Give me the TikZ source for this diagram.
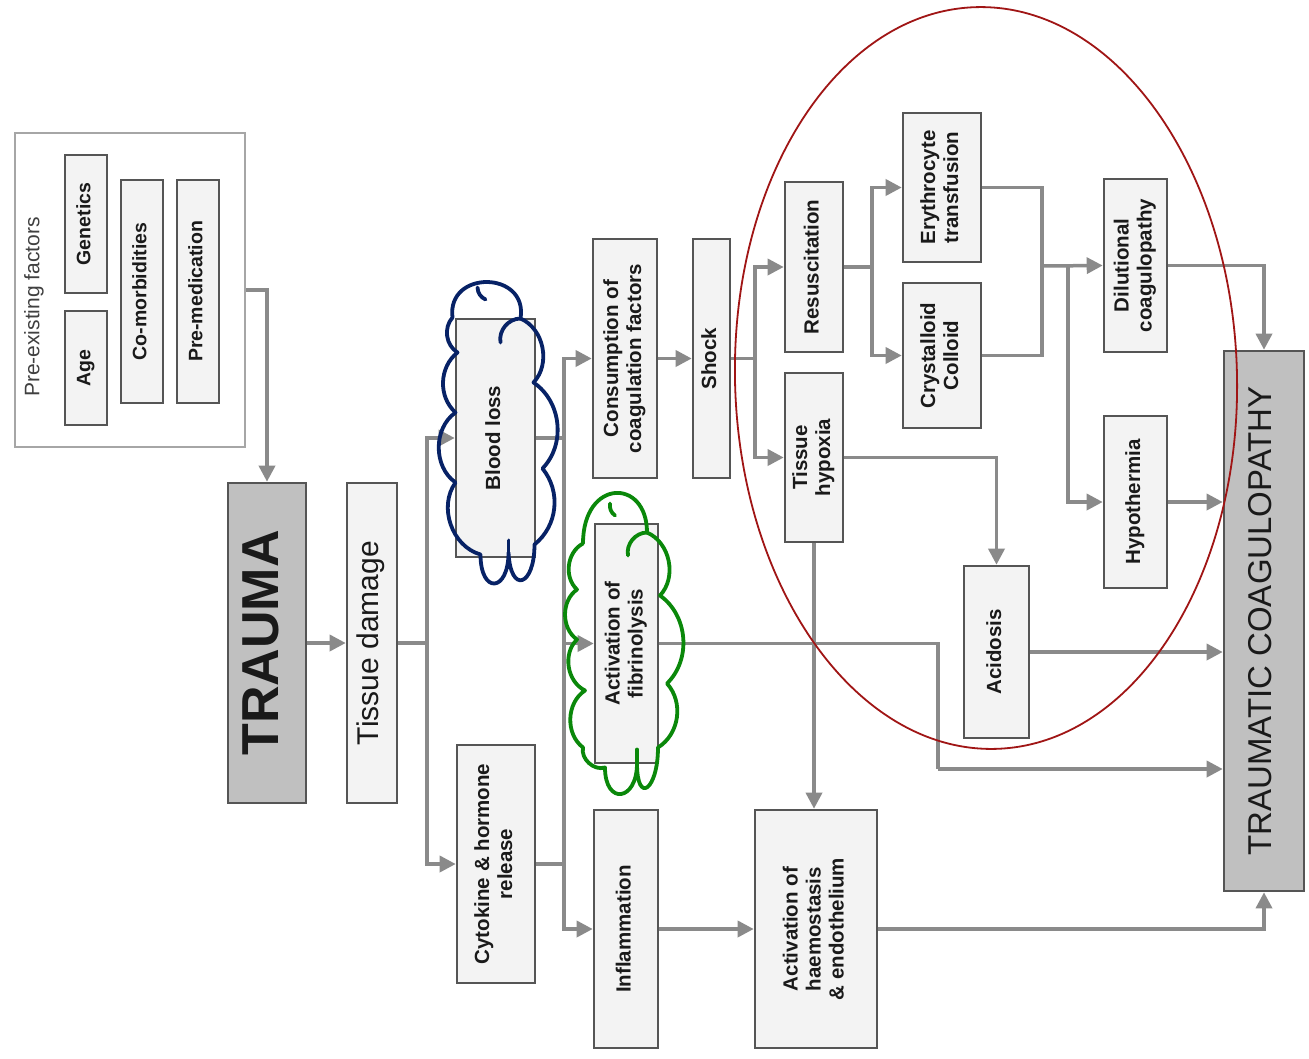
\documentclass[tikz,border=0pt]{standalone}
\usepackage{fontspec}
\setmainfont{Liberation Sans}
\usepackage{graphicx}
\usetikzlibrary{arrows.meta}
\definecolor{boxline}{HTML}{555555}
\definecolor{boxfill}{HTML}{F3F3F3}
\definecolor{conncol}{HTML}{8A8A8A}
\definecolor{darkfill}{HTML}{C0C0C0}
\definecolor{txt}{HTML}{1A1A1A}
\definecolor{navycloud}{HTML}{072266}
\definecolor{greencloud}{HTML}{0A880A}
\definecolor{ellred}{HTML}{A01515}
\newcommand\lblfont{\fontsize{20.5}{23}\selectfont\bfseries}
\newcommand\rl[1]{\rotatebox{90}{\begin{tabular}{@{}c@{}}#1\end{tabular}}}
\tikzset{
  box/.style={draw=boxline, fill=boxfill, line width=2.6pt, inner sep=0pt, text=txt, font=\lblfont},
  darkbox/.style={box, fill=darkfill},
  conn/.style={draw=conncol, line width=3.5pt},
  arr/.style={conn, -{Triangle[length=16pt,width=16pt]}},
  cloudstroke/.style={line width=3.8pt, line join=round, line cap=round}
}
\begin{document}
\begin{tikzpicture}[x=1pt,y=-1pt]
\fill[white] (0,0) rectangle (1309,1058);
\useasboundingbox (0,0) rectangle (1309,1058);

% pre-existing factors
\node[draw=gray!70, line width=2.2pt, fill=white, minimum width=230pt, minimum height=314pt, inner sep=0pt] (pre) at (130,290) {};
\node[text=black!75, font=\fontsize{21}{23}\selectfont] (pretitle) at (34,307) {\rotatebox{90}{Pre-existing factors}};
\node[box, font=\fontsize{19.5}{22}\selectfont\bfseries, minimum width=42pt, minimum height=114pt] (age) at (86,368) {\rl{Age}};
\node[box, font=\fontsize{19.5}{22}\selectfont\bfseries, minimum width=42pt, minimum height=138pt] (gen) at (86,224) {\rl{Genetics}};
\node[box, font=\fontsize{19.5}{22}\selectfont\bfseries, minimum width=42pt, minimum height=223pt] (comorb) at (142,291.5) {\rl{Co-morbidities}};
\node[box, font=\fontsize{19.5}{22}\selectfont\bfseries, minimum width=42pt, minimum height=223pt] (premed) at (198,291.5) {\rl{Pre-medication}};

% main boxes
\node[darkbox, font=\fontsize{52}{56}\selectfont\bfseries, minimum width=78pt, minimum height=320pt] (trauma) at (267,643) {\rl{TRAUMA}};
\node[box, font=\fontsize{30}{34}\selectfont, minimum width=50pt, minimum height=320pt] (tissue) at (372,643) {\rl{Tissue damage}};
\node[box, minimum width=79pt, minimum height=238pt] (blood) at (495.5,438) {\rl{Blood loss}};
\node[box, minimum width=78pt, minimum height=238pt] (cyto) at (496,864) {\rl{Cytokine \& hormone\\release}};
\node[box, minimum width=64pt, minimum height=239pt] (cons) at (625,358.5) {\rl{Consumption of\\coagulation factors}};
\node[box, minimum width=63pt, minimum height=239pt] (fib) at (626.5,643.5) {\rl{Activation of\\fibrinolysis}};
\node[box, minimum width=64pt, minimum height=238pt] (infl) at (626,929) {\rl{Inflammation}};
\node[box, minimum width=37pt, minimum height=239pt] (shock) at (711.5,358.5) {\rl{Shock}};
\node[box, minimum width=58pt, minimum height=170pt] (resus) at (814,267) {\rl{Resuscitation}};
\node[box, minimum width=58pt, minimum height=169pt] (hypox) at (814,457.5) {\rl{Tissue\\hypoxia}};
\node[box, minimum width=122pt, minimum height=238pt] (haem) at (816,929) {\rl{Activation of\\haemostasis\\\& endothelium}};
\node[box, minimum width=78pt, minimum height=149pt] (ery) at (942,187.5) {\rl{Erythrocyte\\transfusion}};
\node[box, minimum width=78pt, minimum height=145pt] (crys) at (942,355.5) {\rl{Crystalloid\\Colloid}};
\node[box, minimum width=65pt, minimum height=172pt] (acid) at (996.5,652) {\rl{Acidosis}};
\node[box, minimum width=63pt, minimum height=173pt] (dil) at (1135.5,265.5) {\rl{Dilutional\\coagulopathy}};
\node[box, minimum width=63pt, minimum height=172pt] (hypoth) at (1135.5,502) {\rl{Hypothermia}};
\node[darkbox, font=\fontsize{33}{36}\selectfont, minimum width=80pt, minimum height=540pt] (tc) at (1264,621) {\rl{TRAUMATIC COAGULOPATHY}};

% branch points
\coordinate (b1) at (427,643);
\coordinate (b2) at (564,438);
\coordinate (b3) at (755,358.5);
\coordinate (b4) at (872,267);
\coordinate (b5) at (1042,187.5);
\coordinate (b6) at (1042,266);
\coordinate (b7) at (1068,266);
\coordinate (b8) at (938,643.5);
\coordinate (b9) at (938,769);

% connectors
\draw[arr] (pre.east) -| (trauma.north);
\draw[arr] (trauma.east) -- (tissue.west);
\draw[conn] (tissue.east) -- (b1);
\draw[arr] (b1) |- (blood.west);
\draw[arr] (b1) |- (cyto.west);
\draw[conn] (blood.east) -- (b2);
\draw[arr] (b2) |- (cons.west);
\draw[arr] (b2) |- (fib.west);
\draw[conn] (cyto.east) -- (cyto.east -| b2);
\draw[conn] (fib.west -| b2) -- (cyto.east -| b2);
\draw[arr] (cyto.east -| b2) |- (infl.west);
\draw[arr] (cons.east) -- (shock.west);
\draw[conn] (shock.east) -- (b3);
\draw[arr] (b3) |- (resus.west);
\draw[arr] (b3) |- (hypox.west);
\draw[conn] (resus.east) -- (b4);
\draw[arr] (b4) |- (ery.west);
\draw[arr] (b4) |- (crys.west);
\draw[conn] (ery.east) -- (b5) |- (crys.east);
\draw[arr] (b6) -- (dil.west);
\draw[arr] (b7) |- (hypoth.west);
\draw[arr] (dil.east) -| (tc.north);
\draw[arr] (hypoth.east) -- (hypoth.east -| tc.west);
\draw[arr] (hypox.east) -| (acid.north);
\draw[arr] (acid.east) -- (acid.east -| tc.west);
\draw[arr] (hypox.south) -- (hypox.south |- haem.north);
\draw[conn] (fib.east) -- (b8) -- (b9);
\draw[arr] (b9) -- (b9 -| tc.west);
\draw[arr] (infl.east) -- (haem.west);
\draw[arr] (haem.east) -| (tc.south);

% blue cloud round Blood loss
\begin{scope}[shift={(497.5,432.5)}]
\draw[navycloud, cloudstroke]
  (-45,-115) .. controls +(-6,-48) and +(8,-48) .. (23,-114)
  to[bend left=55] (36,-50)
  to[bend left=50] (45,36)
  to[bend left=45] (37,112)
  .. controls +(0,42) and +(2,42) .. (11,120)
  .. controls +(0,40) and +(0,40) .. (-17,122)
  to[bend left=55] (-42,50)
  to[bend left=55] (-42,-20)
  to[bend left=50] (-40,-80)
  to[bend left=50] (-45,-115);
\draw[navycloud, cloudstroke] (23,-114) to[bend right=50] (3,-90);
\draw[navycloud, cloudstroke] (-12,-133) to[bend left=30] (-20,-145);
\draw[navycloud, cloudstroke] (11,120) -- (11,108);
\end{scope}

% green cloud round Activation of fibrinolysis
\begin{scope}[shift={(624,643.5)}]
\draw[greencloud, cloudstroke]
  (-41,-100) .. controls +(0,-65) and +(0,-55) .. (23,-111)
  to[bend left=55] (36,-48)
  to[bend left=50] (43,40)
  to[bend left=50] (34,104)
  .. controls +(0,42) and +(0,42) .. (13,120)
  .. controls +(0,38) and +(0,38) .. (-19,124)
  to[bend left=60] (-41,104)
  to[bend left=55] (-39,47)
  to[bend left=55] (-47,-4)
  to[bend left=55] (-47,-54)
  to[bend left=55] (-41,-100);
\draw[greencloud, cloudstroke] (23,-111) to[bend right=50] (4,-88);
\draw[greencloud, cloudstroke] (-9,-128) to[bend left=30] (-14,-140);
\draw[greencloud, cloudstroke] (13,120) -- (13,106);
\end{scope}

% red ellipse
\draw[ellred, line width=1.8pt, rotate around={1.5:(986,378)}] (986,378) ellipse [x radius=251, y radius=371];
\end{tikzpicture}
\end{document}
